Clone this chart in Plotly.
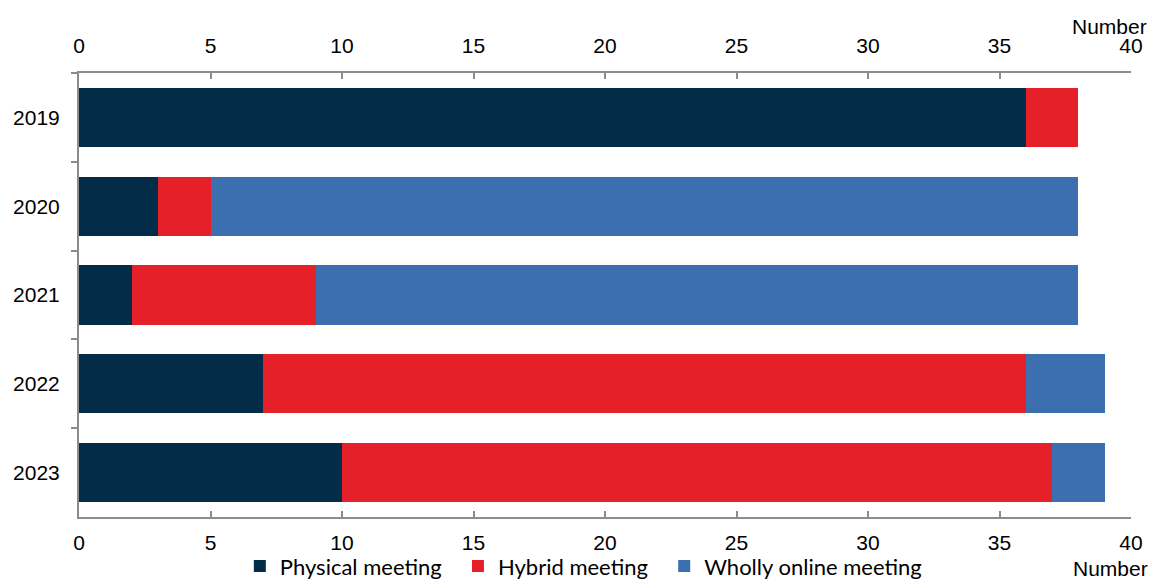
import plotly.graph_objects as go

years = ["2019", "2020", "2021", "2022", "2023"]
physical = [36, 3, 2, 7, 10]
hybrid = [2, 2, 7, 29, 27]
online = [0, 33, 29, 3, 2]

series = [
    ("Physical meeting", physical, "#022C48"),
    ("Hybrid meeting", hybrid, "#E62028"),
    ("Wholly online meeting", online, "#3B6FAF"),
]

x_ticks = [0, 5, 10, 15, 20, 25, 30, 35, 40]
axis_color = "#8C8C8C"
tick_font = dict(family="Liberation Sans, Arial, sans-serif", size=21, color="#000000")
legend_pad = "\u00a0\u00a0"  # small trailing gap between legend entries

fig = go.Figure()
for i, (name, vals, color) in enumerate(series):
    label = name + (legend_pad if i < len(series) - 1 else "")
    fig.add_trace(go.Bar(
        y=years, x=vals, name=label, orientation="h",
        marker=dict(color=color, line=dict(width=0)),
    ))

# helper (invisible) trace so the top axis gets drawn
fig.add_trace(go.Scatter(
    x=[None], y=[None], xaxis="x2", yaxis="y", mode="markers",
    showlegend=False, hoverinfo="skip",
))

common_x = dict(
    range=[0, 40], tickvals=x_ticks, ticks="inside", ticklen=6, tickwidth=2,
    tickcolor=axis_color, showline=True, linecolor=axis_color, linewidth=2,
    showgrid=False, zeroline=False, tickfont=tick_font,
)

fig.update_layout(
    width=1153, height=579,
    barmode="stack", bargap=0.335,
    plot_bgcolor="white", paper_bgcolor="white",
    margin=dict(l=79, r=22, t=73, b=62, autoexpand=False),
    xaxis=dict(side="bottom", ticklabelstandoff=6, **common_x),
    xaxis2=dict(side="top", overlaying="x", matches="x", ticklabelstandoff=10, **common_x),
    yaxis=dict(
        autorange="reversed", type="category", tickson="boundaries",
        ticks="outside", ticklen=6, tickwidth=2, tickcolor=axis_color,
        showline=True, linecolor=axis_color, linewidth=2, showgrid=False,
        tickfont=tick_font, ticklabelstandoff=13,
    ),
    legend=dict(
        orientation="h", xref="container", yref="container",
        x=0.208, xanchor="left", y=0.022, yanchor="middle",
        font=dict(family="Lato, Calibri, sans-serif", size=22, color="#000000"),
        bgcolor="rgba(0,0,0,0)", traceorder="normal",
    ),
    annotations=[
        dict(text="Number", xref="paper", yref="paper", x=1, y=1,
             xanchor="right", yanchor="middle", xshift=18, yshift=47,
             showarrow=False, font=tick_font),
        dict(text="Number", xref="paper", yref="paper", x=1, y=0,
             xanchor="right", yanchor="middle", xshift=19, yshift=-51,
             showarrow=False, font=tick_font),
    ],
)

fig.write_html("out.html")
